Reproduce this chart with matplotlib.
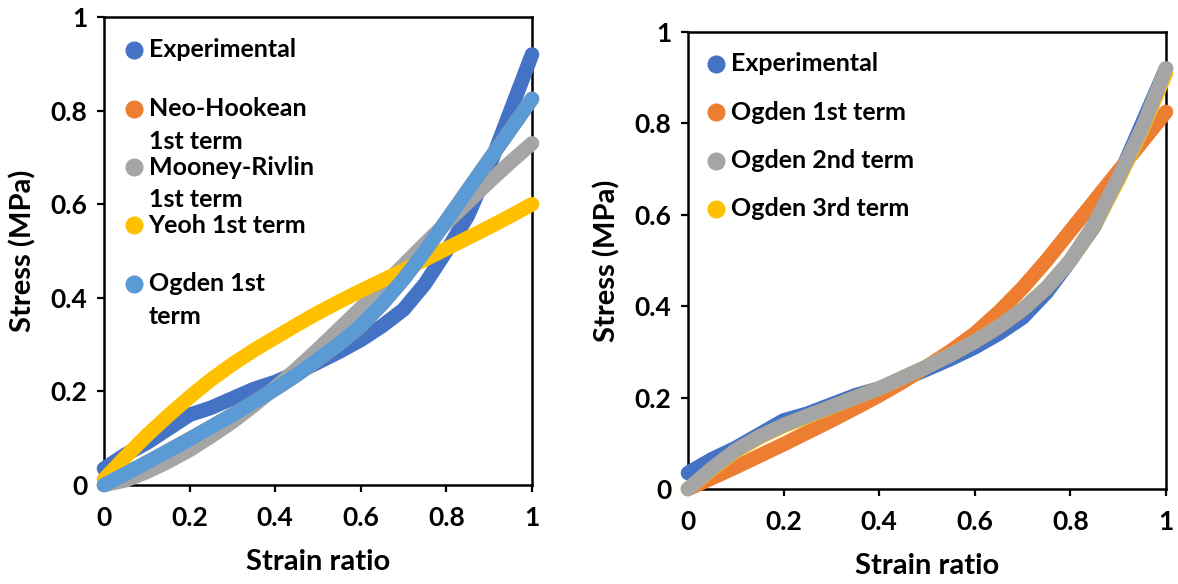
import matplotlib
matplotlib.use("Agg")
import matplotlib.pyplot as plt

plt.rcParams['font.family'] = ['Lato', 'DejaVu Sans']
plt.rcParams['font.weight'] = 'bold'

strain = [0.0, 0.05, 0.1, 0.15, 0.2, 0.25, 0.3, 0.35, 0.4, 0.45, 0.5,
          0.55, 0.6, 0.65, 0.7, 0.75, 0.8, 0.85, 0.9, 0.95, 1.0]

experimental = [0.035, 0.065, 0.09, 0.12, 0.15, 0.165, 0.185, 0.205, 0.22, 0.24, 0.262,
                0.285, 0.31, 0.34, 0.375, 0.43, 0.5, 0.575, 0.68, 0.80, 0.92]
neo_hookean = [0.0, 0.024, 0.048, 0.073, 0.098, 0.124, 0.15, 0.177, 0.205, 0.235, 0.268,
               0.302, 0.34, 0.387, 0.44, 0.50, 0.565, 0.63, 0.695, 0.76, 0.825]
mooney_rivlin = [0.0, 0.01, 0.028, 0.05, 0.075, 0.104, 0.135, 0.17, 0.208, 0.248, 0.29,
                 0.334, 0.378, 0.424, 0.47, 0.516, 0.56, 0.604, 0.648, 0.69, 0.73]
yeoh = [0.012, 0.06, 0.106, 0.148, 0.188, 0.225, 0.258, 0.288, 0.315, 0.342, 0.368,
        0.392, 0.415, 0.437, 0.459, 0.482, 0.505, 0.528, 0.551, 0.575, 0.60]
ogden1 = [0.0, 0.024, 0.048, 0.073, 0.098, 0.124, 0.15, 0.177, 0.205, 0.235, 0.268,
          0.302, 0.34, 0.387, 0.44, 0.50, 0.565, 0.63, 0.695, 0.76, 0.825]
ogden2 = [0.0, 0.045, 0.085, 0.115, 0.14, 0.16, 0.18, 0.2, 0.22, 0.244, 0.268,
          0.294, 0.323, 0.355, 0.393, 0.44, 0.5, 0.58, 0.68, 0.79, 0.92]
ogden3 = [0.0, 0.043, 0.083, 0.113, 0.138, 0.158, 0.179, 0.2, 0.22, 0.244, 0.268,
          0.294, 0.323, 0.355, 0.393, 0.44, 0.5, 0.578, 0.675, 0.785, 0.91]

C_EXP = '#4472C4'
C_OR = '#ED7D31'
C_GR = '#A5A5A5'
C_YE = '#FFC000'
C_LB = '#5B9BD5'

ticks = [0, 0.2, 0.4, 0.6, 0.8, 1]
tick_labels = ['0', '0.2', '0.4', '0.6', '0.8', '1']

fig = plt.figure(figsize=(11.78, 5.84), dpi=100)
ax1 = fig.add_axes([104/1178, 99/584, 428/1178, 468/584])
ax2 = fig.add_axes([688/1178, 95/584, 478/1178, 457/584])

LW = 10.5
FS_LEG = 18

def style(ax):
    ax.set_xlim(0, 1)
    ax.set_ylim(0, 1)
    ax.set_xticks(ticks)
    ax.set_yticks(ticks)
    ax.set_xticklabels(tick_labels)
    ax.set_yticklabels(tick_labels)
    for s in ax.spines.values():
        s.set_linewidth(1.8)
        s.set_color('black')
    ax.tick_params(direction='out', length=5, width=1.6, labelsize=19, pad=7)
    ax.tick_params(axis='x', pad=10)
    ax.set_xlabel('Strain ratio', fontsize=21, fontweight='bold', labelpad=14)
    ax.set_ylabel('Stress (MPa)', fontsize=21, fontweight='bold', labelpad=10)

def curve(ax, y, c):
    ax.plot(strain, y, color=c, lw=LW, solid_capstyle='round', solid_joinstyle='round',
            clip_on=False, zorder=3)

# Left panel
curve(ax1, experimental, C_EXP)
curve(ax1, neo_hookean, C_OR)
curve(ax1, mooney_rivlin, C_GR)
curve(ax1, yeoh, C_YE)
curve(ax1, ogden1, C_LB)
style(ax1)

leg1 = [('Experimental', C_EXP, 0.930, None),
        ('Neo-Hookean', C_OR, 0.804, '1st term'),
        ('Mooney-Rivlin', C_GR, 0.679, '1st term'),
        ('Yeoh 1st term', C_YE, 0.555, None),
        ('Ogden 1st', C_LB, 0.430, 'term')]
for lab, c, y, sub in leg1:
    ax1.plot([0.069], [y], 'o', color=c, ms=12, transform=ax1.transAxes, zorder=5)
    ax1.text(0.104, y, lab, transform=ax1.transAxes, fontsize=FS_LEG, fontweight='bold',
             va='center', ha='left', zorder=5)
    if sub:
        ax1.text(0.104, y - 0.07, sub, transform=ax1.transAxes, fontsize=FS_LEG,
                 fontweight='bold', va='center', ha='left', zorder=5)

# Right panel
curve(ax2, experimental, C_EXP)
curve(ax2, ogden1, C_OR)
curve(ax2, ogden3, C_YE)
curve(ax2, ogden2, C_GR)
style(ax2)

leg2 = [('Experimental', C_EXP, 0.930),
        ('Ogden 1st term', C_OR, 0.824),
        ('Ogden 2nd term', C_GR, 0.718),
        ('Ogden 3rd term', C_YE, 0.613)]
for lab, c, y in leg2:
    ax2.plot([0.058], [y], 'o', color=c, ms=12, transform=ax2.transAxes, zorder=5)
    ax2.text(0.090, y, lab, transform=ax2.transAxes, fontsize=FS_LEG, fontweight='bold',
             va='center', ha='left', zorder=5)

fig.savefig('out.png', dpi=100)
